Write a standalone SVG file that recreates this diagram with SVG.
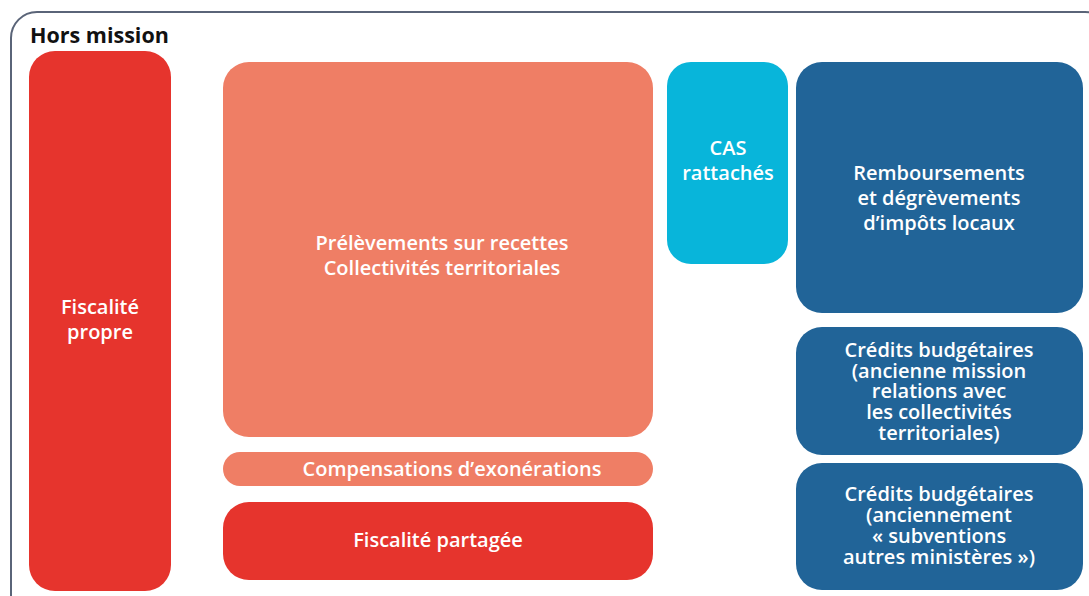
<svg xmlns="http://www.w3.org/2000/svg" width="1089" height="596" viewBox="0 0 1089 596">
<style>
.t{font-family:"Open Sans","Liberation Sans",sans-serif;font-weight:600;font-size:20px;fill:#fff;text-anchor:middle}
.red{fill:#e6342d}
.sal{fill:#ef7e65}
.cyan{fill:#08b5da}
.blue{fill:#216498}
</style>
<rect width="1089" height="596" fill="#fff"/>
<g id="frame">
<rect x="11" y="12" width="1100" height="620" rx="26" fill="none" stroke="#5a6478" stroke-width="2"/>
<text x="30" y="43" style="font-family:'Open Sans','Liberation Sans',sans-serif;font-weight:700;font-size:21.5px;fill:#111">Hors mission</text>
</g>
<g id="fiscalite-propre">
<rect class="red" x="29" y="51" width="142" height="540" rx="26"/>
<text class="t" x="100" y="314">Fiscalité</text>
<text class="t" x="100" y="339">propre</text>
</g>
<g id="prelevements">
<rect class="sal" x="223" y="62" width="430" height="375" rx="26"/>
<text class="t" x="442" y="250">Prélèvements sur recettes</text>
<text class="t" x="442" y="275">Collectivités territoriales</text>
</g>
<g id="compensations">
<rect class="sal" x="223" y="452" width="430" height="34" rx="17"/>
<text class="t" x="452" y="476">Compensations d’exonérations</text>
</g>
<g id="fiscalite-partagee">
<rect class="red" x="223" y="502" width="430" height="78" rx="26"/>
<text class="t" x="438" y="547">Fiscalité partagée</text>
</g>
<g id="cas">
<rect class="cyan" x="667" y="62" width="121" height="202" rx="24"/>
<text class="t" x="728" y="155">CAS</text>
<text class="t" x="728" y="180">rattachés</text>
</g>
<g id="remboursements">
<rect class="blue" x="796" y="62" width="287" height="251" rx="26"/>
<text class="t" x="939" y="180">Remboursements</text>
<text class="t" x="939" y="205">et dégrèvements</text>
<text class="t" x="939" y="230">d’impôts locaux</text>
</g>
<g id="credits-1">
<rect class="blue" x="796" y="327" width="287" height="128" rx="26"/>
<text class="t" x="939" y="357">Crédits budgétaires</text>
<text class="t" x="939" y="378">(ancienne mission</text>
<text class="t" x="939" y="398">relations avec</text>
<text class="t" x="939" y="419">les collectivités</text>
<text class="t" x="939" y="440">territoriales)</text>
</g>
<g id="credits-2">
<rect class="blue" x="796" y="463" width="287" height="127" rx="26"/>
<text class="t" x="939" y="501">Crédits budgétaires</text>
<text class="t" x="939" y="522">(anciennement</text>
<text class="t" x="939" y="543">« subventions</text>
<text class="t" x="939" y="564">autres ministères »)</text>
</g>
<g id="connectors"></g>
</svg>
